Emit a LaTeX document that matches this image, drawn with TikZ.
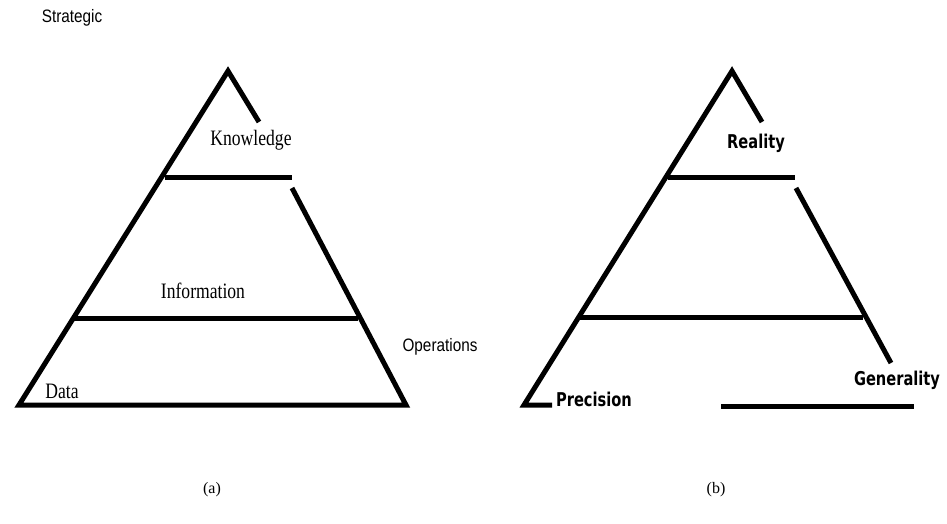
\documentclass[tikz,border=0pt]{standalone}
\usepackage{fontspec}
\setmainfont{Liberation Serif}
\setsansfont{Liberation Sans}
\newfontfamily\heavysans{DejaVu Sans}
\begin{document}
\begin{tikzpicture}[x=1pt,y=-1pt,
  edge/.style={line width=5pt,line join=miter,line cap=butt},
  serif/.style={font=\fontsize{22}{24}\selectfont, xscale=0.8, inner sep=0pt},
  sanslab/.style={font=\sffamily\fontsize{18}{20}\selectfont, xscale=0.85, inner sep=0pt},
  boldlab/.style={font=\heavysans\bfseries\fontsize{19}{21}\selectfont, xscale=0.77, inner sep=0pt},
  caption/.style={font=\fontsize{16}{18}\selectfont, inner sep=0pt}]
\useasboundingbox (0,0) rectangle (947,523);
% ---------- (a) ----------
\coordinate (aA) at (228,71);
\coordinate (aR1) at (259,122);
\coordinate (aU1) at (165,177);
\coordinate (aU2) at (292,177);
\coordinate (aR2) at (292,188);
\coordinate (aM1) at (73,318);
\coordinate (aM2) at (358,318);
\coordinate (aBL) at (19,405);
\coordinate (aBR) at (406,405);
\draw[edge] (aR2) -- (aBR) -- (aBL) -- (aA) -- (aR1);
\draw[edge] (aU1) -- (aU2);
\draw[edge] (aM1) -- (aM2);
\node[sanslab] (strat) at (72,18) {Strategic};
\node[sanslab] (oper) at (440,347) {Operations};
\node[serif] (know) at (251,140) {Knowledge};
\node[serif] (info) at (203,291) {Information};
\node[serif] (data) at (62,391) {Data};
\node[caption] (capa) at (212,490) {(a)};
% ---------- (b) ----------
\coordinate (bA) at (732,71);
\coordinate (bR1) at (762,122);
\coordinate (bU1) at (668,177);
\coordinate (bU2) at (795,177);
\coordinate (bR2) at (796,188);
\coordinate (bR3) at (891,363);
\coordinate (bM1) at (578,317);
\coordinate (bM2) at (863,317);
\coordinate (bBL) at (524,405);
\coordinate (bBS) at (552,405);
\coordinate (bB1) at (721,406);
\coordinate (bB2) at (914,406);
\draw[edge] (bR1) -- (bA) -- (bBL) -- (bBS);
\draw[edge] (bU1) -- (bU2);
\draw[edge] (bR2) -- (bR3);
\draw[edge] (bM1) -- (bM2);
\draw[edge] (bB1) -- (bB2);
\node[boldlab] (real) at (756,143) {Reality};
\node[boldlab] (prec) at (594,399) {Precision};
\node[boldlab] (gen) at (897,380) {Generality};
\node[caption] (capb) at (716,490) {(b)};
\end{tikzpicture}
\end{document}
